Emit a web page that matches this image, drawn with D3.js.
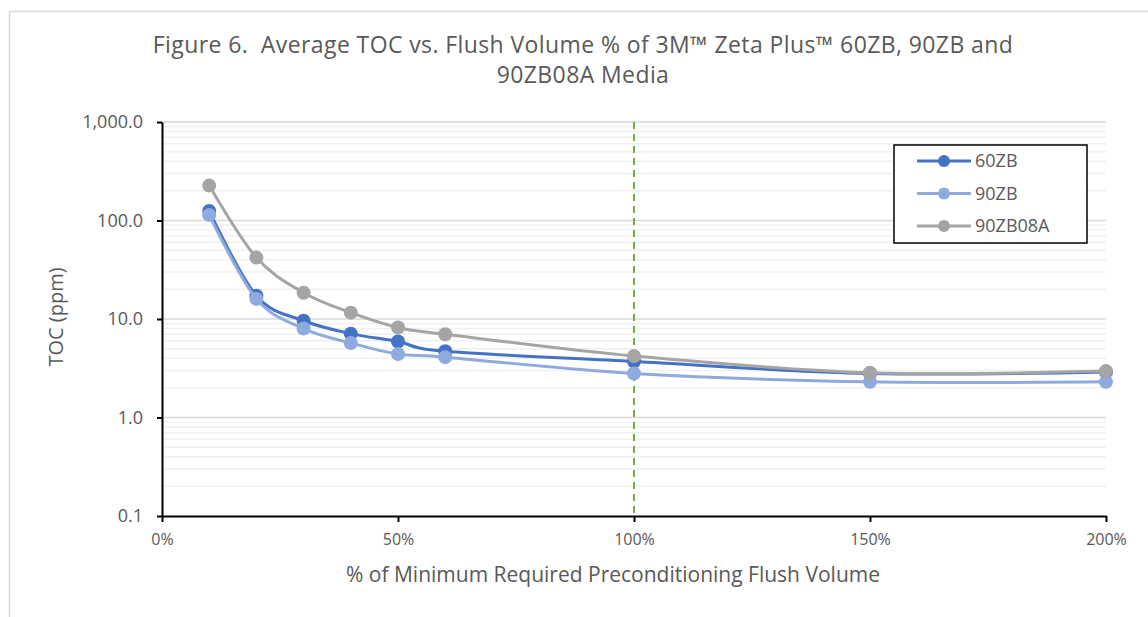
<!DOCTYPE html>
<html>
<head>
<meta charset="utf-8">
<script src="https://cdn.jsdelivr.net/npm/d3@7"></script>
<style>
  body { margin: 0; background: #fff; }
  svg { display: block; font-family: 'Open Sans', 'Noto Sans', sans-serif; }
</style>
</head>
<body>
<svg id="chart"></svg>
<script>
const width = 1148
const height = 617

// data
const flushPct = [10, 20, 30, 40, 50, 60, 100, 150, 200]
const toc60ZB = [125, 17.2, 9.6, 7.1, 5.9, 4.7, 3.7, 2.8, 2.9]
const toc90ZB = [114, 16, 8.0, 5.7, 4.4, 4.1, 2.8, 2.3, 2.3]
const toc90ZB08A = [226, 42, 18.5, 11.6, 8.2, 7.0, 4.2, 2.85, 2.96]
const seriesNames = ['60ZB', '90ZB', '90ZB08A']
const seriesColors = ['#4472C4', '#8FAADC', '#A5A5A5']
const xTicks = [0, 50, 100, 150, 200]
const yTicks = [0.1, 1, 10, 100, 1000]
const refLine = 100

const series = [toc60ZB, toc90ZB, toc90ZB08A].map((vals, i) => ({
  name: seriesNames[i],
  color: seriesColors[i],
  values: vals.map((v, j) => ({ x: flushPct[j], y: v })),
}))

const font = "'Open Sans', 'Noto Sans', sans-serif"
const textColor = '#595959'

const svg = d3
  .select('#chart')
  .attr('width', width)
  .attr('height', height)

// outer chart border
svg
  .append('rect')
  .attr('x', 9.5)
  .attr('y', 11.5)
  .attr('width', 1200)
  .attr('height', 700)
  .attr('fill', 'none')
  .attr('stroke', '#d9d9d9')
  .attr('stroke-width', 1.5)

const margin = { left: 162, right: 42, top: 122, bottom: 101 }

const x = d3
  .scaleLinear()
  .domain([0, 200])
  .range([margin.left, width - margin.right])

const y = d3
  .scaleLog()
  .domain([0.1, 1000])
  .range([height - margin.bottom, margin.top])

// --------------------------------------------------------------
// Gridlines
const minor = []
for (let d = 0.1; d < 1000; d *= 10) {
  for (let k = 2; k <= 9; k++) minor.push(d * k)
}

svg
  .append('g')
  .selectAll('line')
  .data(minor)
  .join('line')
  .attr('x1', x(0))
  .attr('x2', x(200))
  .attr('y1', (d) => y(d))
  .attr('y2', (d) => y(d))
  .attr('stroke', '#f0f0f0')
  .attr('stroke-width', 1.5)

svg
  .append('g')
  .selectAll('line')
  .data(yTicks.slice(1))
  .join('line')
  .attr('x1', x(0))
  .attr('x2', x(200))
  .attr('y1', (d) => y(d))
  .attr('y2', (d) => y(d))
  .attr('stroke', '#d9d9d9')
  .attr('stroke-width', 1.5)

// reference line at 100%
svg
  .append('line')
  .attr('x1', x(refLine))
  .attr('x2', x(refLine))
  .attr('y1', y(1000))
  .attr('y2', y(0.1))
  .attr('stroke', '#70AD47')
  .attr('stroke-width', 2)
  .attr('stroke-dasharray', '7 5')

// --------------------------------------------------------------
// Axes
const fmtY = d3.format(',.1f')

const yAxis = svg
  .append('g')
  .attr('transform', `translate(${x(0)},0)`)
  .call(d3.axisLeft(y).tickValues(yTicks).tickFormat(fmtY).tickSize(5).tickSizeOuter(0))
yAxis.select('.domain').attr('stroke', '#000').attr('stroke-width', 2)
yAxis.selectAll('.tick line').attr('stroke', '#000').attr('stroke-width', 2)
yAxis
  .selectAll('.tick text')
  .attr('x', -19)
  .attr('fill', textColor)
  .attr('font-size', 18)
  .attr('font-family', font)

const xAxis = svg
  .append('g')
  .attr('transform', `translate(0,${y(0.1)})`)
  .call(d3.axisBottom(x).tickValues(xTicks).tickFormat((d) => d + '%').tickSize(6).tickSizeOuter(0))
xAxis.select('.domain').attr('stroke', '#000').attr('stroke-width', 2)
xAxis.selectAll('.tick line').attr('stroke', '#000').attr('stroke-width', 2)
xAxis
  .selectAll('.tick text')
  .attr('y', 18)
  .attr('fill', textColor)
  .attr('font-size', 16)
  .attr('font-family', font)

// --------------------------------------------------------------
// Lines and markers
const line = d3
  .line()
  .x((d) => x(d.x))
  .y((d) => y(d.y))
  .curve(d3.curveCardinal.tension(0))

const groups = svg
  .append('g')
  .selectAll('g')
  .data(series)
  .join('g')

groups
  .append('path')
  .attr('d', (d) => line(d.values))
  .attr('fill', 'none')
  .attr('stroke', (d) => d.color)
  .attr('stroke-width', 3)

groups
  .selectAll('circle')
  .data((d) => d.values.map((v) => ({ ...v, color: d.color })))
  .join('circle')
  .attr('cx', (d) => x(d.x))
  .attr('cy', (d) => y(d.y))
  .attr('r', 7)
  .attr('fill', (d) => d.color)

// --------------------------------------------------------------
// Titles
const title = svg
  .append('text')
  .attr('text-anchor', 'middle')
  .attr('fill', textColor)
  .attr('font-size', 23)
  .attr('letter-spacing', 0.4)
  .style('white-space', 'pre')
title.append('tspan').attr('x', 583).attr('y', 53).text('Figure 6.  Average TOC vs. Flush Volume % of 3M™ Zeta Plus™ 60ZB, 90ZB and')
title.append('tspan').attr('x', 583).attr('y', 83).text('90ZB08A Media')

svg
  .append('text')
  .attr('x', 613)
  .attr('y', 582)
  .attr('text-anchor', 'middle')
  .attr('fill', textColor)
  .attr('font-size', 21)
  .text('% of Minimum Required Preconditioning Flush Volume')

svg
  .append('text')
  .attr('transform', 'translate(63,317) rotate(-90)')
  .attr('text-anchor', 'middle')
  .attr('fill', textColor)
  .attr('font-size', 20)
  .text('TOC (ppm)')

// --------------------------------------------------------------
// Legend
const legend = svg.append('g').attr('transform', 'translate(894,145)')
legend
  .append('rect')
  .attr('width', 193)
  .attr('height', 98)
  .attr('fill', '#fff')
  .attr('stroke', '#000')
  .attr('stroke-width', 1.5)

const items = legend
  .selectAll('g')
  .data(series)
  .join('g')
  .attr('transform', (d, i) => `translate(0,${16 + i * 32.5})`)

items
  .append('line')
  .attr('x1', 23)
  .attr('x2', 77)
  .attr('stroke', (d) => d.color)
  .attr('stroke-width', 3)
items
  .append('circle')
  .attr('cx', 50)
  .attr('r', 6)
  .attr('fill', (d) => d.color)
items
  .append('text')
  .attr('x', 81)
  .attr('dy', '0.35em')
  .attr('fill', textColor)
  .attr('font-size', 18)
  .text((d) => d.name)
</script>
</body>
</html>
